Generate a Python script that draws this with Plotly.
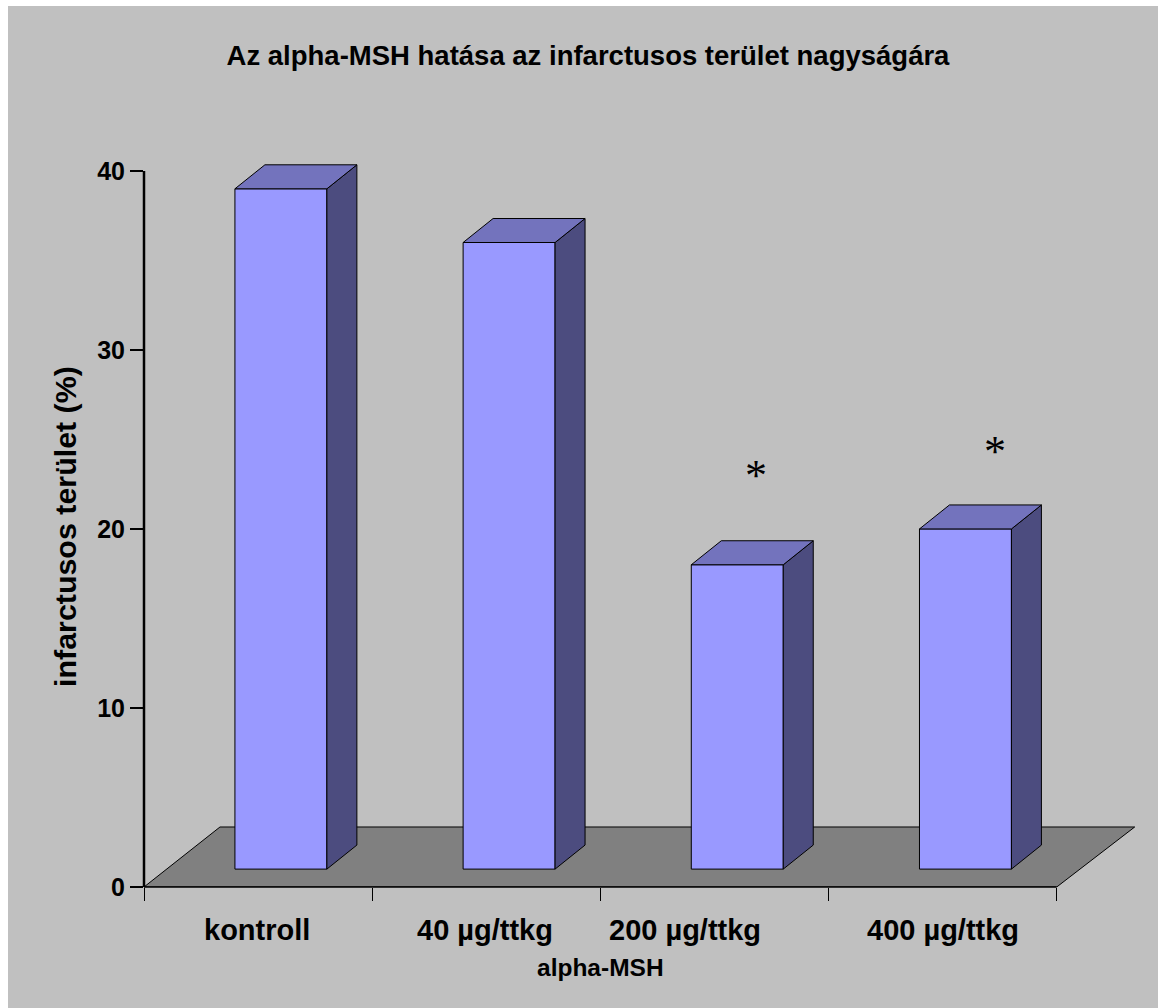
import plotly.graph_objects as go

categories = ["kontroll", "40 µg/ttkg", "200 µg/ttkg", "400 µg/ttkg"]
values = [38, 35, 17, 19]
y_ticks = [0, 10, 20, 30, 40]
x_ticks = [0, 1, 2, 3, 4]
label_pos = [0.495, 1.494, 2.37, 3.5]
star_x = [2.68, 3.73]
star_y = [23.0, 24.3]

FRONT, TOP, SIDE, FLOOR, BG = "#9999FF", "#7373BD", "#4C4C7F", "#808080", "#C0C0C0"
FONT = "Liberation Sans"
PX_X, PX_Y = 228.25, 17.9
X_MAX, Y_MAX = 4.4, 41
BAR_W = 0.403
OFFSET = 0.6
BASE = 1.0
DX = 30 / PX_X
DY = 24 / PX_Y

fig = go.Figure()
x_centers = [i + OFFSET for i in range(len(values))]
fig.add_trace(go.Bar(x=x_centers, y=values, base=[BASE] * len(values), width=BAR_W,
                     marker=dict(color=FRONT, line=dict(color="#000000", width=1)),
                     showlegend=False, hoverinfo="skip"))

for xc, v in zip(x_centers, values):
    l, r = xc - BAR_W / 2, xc + BAR_W / 2
    t = BASE + v
    fig.add_trace(go.Scatter(x=[r, r + DX, r + DX, r, r], y=[BASE, BASE + DY, t + DY, t, BASE],
                             fill="toself", fillcolor=SIDE, mode="lines",
                             line=dict(color="#000000", width=1),
                             showlegend=False, hoverinfo="skip"))
    fig.add_trace(go.Scatter(x=[l, r, r + DX, l + DX, l], y=[t, t, t + DY, t + DY, t],
                             fill="toself", fillcolor=TOP, mode="lines",
                             line=dict(color="#000000", width=1),
                             showlegend=False, hoverinfo="skip"))

# floor of the 3-D box, behind the bars
fig.add_shape(type="path", xref="x", yref="y", layer="below",
              path=f"M 0 0 L 4 0 L {4 + 78 / PX_X} {60 / PX_Y} L {76 / PX_X} {60 / PX_Y} Z",
              fillcolor=FLOOR, line=dict(color="#000000", width=1))
# axis lines stop at the last ticks, inside the wider plot area
fig.add_shape(type="line", xref="paper", yref="y", x0=0, x1=0, y0=0, y1=y_ticks[-1],
              line=dict(color="#000000", width=2.5))
fig.add_shape(type="line", xref="x", yref="paper", x0=0, x1=x_ticks[-1], y0=0, y1=0,
              line=dict(color="#000000", width=1.3))

anns = []
for c, p in zip(categories, label_pos):
    anns.append(dict(x=p, y=-43 / (Y_MAX * PX_Y), xref="x", yref="paper",
                     text=f"<b>{c}</b>", showarrow=False, yanchor="middle",
                     font=dict(family=FONT, size=29, color="#000000")))
for sx, sy in zip(star_x, star_y):
    anns.append(dict(x=sx, y=sy, xref="x", yref="y", text="*", showarrow=False,
                     font=dict(family="Liberation Serif", size=44, color="#000000")))
anns.append(dict(x=(601 - 144) / PX_X, y=-80 / (Y_MAX * PX_Y), xref="x", yref="paper",
                 text="<b>alpha-MSH</b>", showarrow=False, yanchor="middle",
                 font=dict(family=FONT, size=24.5, color="#000000")))
anns.append(dict(x=-79 / (X_MAX * PX_X), y=(887 - 527) / (Y_MAX * PX_Y), xref="paper", yref="paper",
                 textangle=-90, text="<b>infarctusos terület (%)</b>", showarrow=False,
                 xanchor="center", yanchor="middle",
                 font=dict(family=FONT, size=30.4, color="#000000")))

fig.update_layout(
    width=1150, height=1002,
    margin=dict(l=136, r=1150 - 136 - X_MAX * PX_X, t=1002 - 121 - Y_MAX * PX_Y, b=121, autoexpand=False),
    paper_bgcolor=BG, plot_bgcolor=BG,
    showlegend=False,
    font=dict(family=FONT, color="#000000"),
    title=dict(text="<b>Az alpha-MSH hatása az infarctusos terület nagyságára</b>",
               x=(588 - 8) / 1150, xanchor="center", xref="container",
               y=1 - (55 - 6) / 1002, yanchor="middle", yref="container",
               font=dict(family=FONT, size=27.5, color="#000000")),
    annotations=anns,
    xaxis=dict(range=[0, X_MAX], tickmode="array", tickvals=x_ticks, ticktext=[""] * len(x_ticks),
               ticks="outside", ticklen=13, tickwidth=1, tickcolor="#000000",
               showline=False, showgrid=False, zeroline=False),
    yaxis=dict(range=[0, Y_MAX], tickmode="array", tickvals=y_ticks,
               ticks="outside", ticklen=13, tickwidth=2, tickcolor="#000000",
               showline=False, showgrid=False, zeroline=False,
               tickfont=dict(family=FONT, size=25, color="#000000", weight="bold")),
)

fig.write_html("out.html", post_script="document.body.style.margin='6px 0 0 8px';document.body.style.overflow='hidden';")
